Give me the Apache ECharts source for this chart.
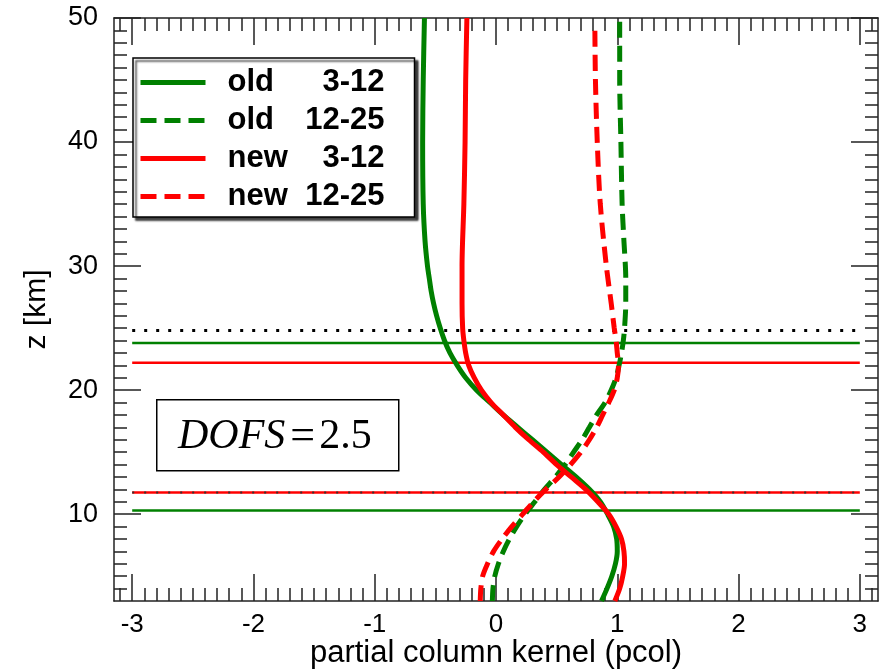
<!DOCTYPE html>
<html><head><meta charset="utf-8">
<script src="https://cdn.jsdelivr.net/npm/echarts@6/dist/echarts.min.js"></script>
<style>html,body{margin:0;padding:0;background:#fff}#c{width:884px;height:671px}</style>
</head><body><div id="c"></div>
<script>
// ---- data ----
const xTicks = [-3, -2, -1, 0, 1, 2, 3];
const yTicks = [10, 20, 30, 40, 50];
const xRange = [-3.15, 3.15];
const yRange = [3, 50];
const seriesNames = ['old 3-12', 'old 12-25', 'new 3-12', 'new 12-25'];
// altitude levels (km) and kernel values
const zOld312 = [3, 4, 5, 6, 7, 8, 9, 10, 11, 12, 13, 14, 15, 16, 17, 18, 19, 20, 21, 22, 23, 24, 25, 26, 27, 28, 29, 30, 32, 35, 40, 45, 50];
const kOld312 = [0.87, 0.915, 0.955, 0.985, 1.0, 0.995, 0.97, 0.92, 0.86, 0.77, 0.66, 0.54, 0.42, 0.30, 0.18, 0.06, -0.05, -0.16, -0.25, -0.32, -0.38, -0.425, -0.46, -0.49, -0.515, -0.535, -0.55, -0.565, -0.585, -0.60, -0.605, -0.60, -0.59];
const zNew312 = [3, 4, 5, 6, 7, 8, 9, 10, 11, 12, 13, 14, 15, 16, 17, 18, 19, 20, 21, 22, 23, 24, 25, 27, 30, 35, 40, 45, 50];
const kNew312 = [0.98, 1.02, 1.045, 1.06, 1.055, 1.035, 0.99, 0.93, 0.84, 0.74, 0.62, 0.50, 0.39, 0.27, 0.16, 0.06, -0.04, -0.12, -0.18, -0.225, -0.25, -0.265, -0.275, -0.28, -0.28, -0.265, -0.255, -0.25, -0.24];
const zOld1225 = [3, 4, 5, 6, 7, 8, 9, 10, 11, 12, 13, 14, 15, 16, 17, 18, 19, 20, 21, 22, 23, 24, 25, 27, 29, 32, 35, 40, 45, 50];
const kOld1225 = [-0.03, -0.025, -0.01, 0.02, 0.06, 0.11, 0.17, 0.24, 0.32, 0.40, 0.49, 0.57, 0.64, 0.71, 0.77, 0.83, 0.90, 0.95, 0.99, 1.015, 1.035, 1.05, 1.06, 1.07, 1.07, 1.055, 1.04, 1.03, 1.02, 1.02];
const zNew1225 = [3, 4, 5, 6, 7, 8, 9, 10, 11, 12, 13, 14, 15, 16, 17, 18, 19, 20, 21, 22, 23, 24, 25, 27, 30, 35, 40, 45, 49.5];
const kNew1225 = [-0.13, -0.125, -0.11, -0.07, -0.02, 0.05, 0.13, 0.22, 0.31, 0.41, 0.52, 0.615, 0.70, 0.77, 0.83, 0.88, 0.93, 0.975, 1.0, 1.01, 1.0, 0.99, 0.975, 0.95, 0.91, 0.86, 0.835, 0.82, 0.815];
// horizontal reference levels (km)
const levelTop = 24.8;
const levelOldTop = 23.8;
const levelNewTop = 22.2;
const levelNewBottom = 11.75;
const levelOldBottom = 10.3;
const levelSpan = [-3, 3];
const dofsText = ['DOFS', '=', '2.5'];

// ---- helpers ----
const FONT = "'Liberation Sans', Arial, Helvetica, sans-serif";
const SERIF = "'Liberation Serif', 'Times New Roman', serif";
const xMinor = []; for (let i = -31; i <= 31; i++) { if (i % 10 !== 0) xMinor.push(i / 10); }
const yMinor = []; for (let v = 4; v <= 49; v++) { if (v % 10 !== 0) yMinor.push(v); }
const GREEN = '#008000', RED = '#ff0000';
const tickStyle = { color: '#222', width: 1.5 };
const pairs = (k, z) => k.map((v, i) => [v, z[i]]);

function axis(kind, pos, ticks, len, showLine, extra) {
  const r = kind === 'x' ? xRange : yRange;
  return Object.assign({
    type: 'value', position: pos, min: r[0], max: r[1], gridIndex: 0,
    splitLine: { show: false },
    axisLine: { show: showLine, onZero: false, lineStyle: { color: '#222', width: 1.5 } },
    axisTick: { show: true, inside: true, length: len, customValues: ticks, lineStyle: tickStyle },
    axisLabel: { show: false }
  }, extra || {});
}

const xAxes = [
  axis('x', 'bottom', xTicks, 27, true, {
    axisLabel: { show: true, customValues: xTicks, margin: 11, fontSize: 26, color: '#000', fontFamily: FONT },
    name: 'partial column kernel (pcol)', nameLocation: 'middle', nameGap: 37, nameMoveOverlap: false,
    nameTextStyle: { fontSize: 31, color: '#000', fontFamily: FONT }
  }),
  axis('x', 'bottom', xMinor, 13, false),
  axis('x', 'top', xTicks, 27, true),
  axis('x', 'top', xMinor, 13, false)
];
const yAxes = [
  axis('y', 'left', yTicks, 27, true, {
    axisLabel: { show: true, customValues: yTicks, margin: 16, fontSize: 27, color: '#000', fontFamily: FONT },
    name: 'z [km]', nameLocation: 'middle', nameRotate: 90, nameGap: 62, nameMoveOverlap: false,
    nameTextStyle: { fontSize: 30, color: '#000', fontFamily: FONT }
  }),
  axis('y', 'left', yMinor, 13, false),
  axis('y', 'right', yTicks, 27, true),
  axis('y', 'right', yMinor, 13, false)
];

function curve(name, data, color, dashed) {
  return {
    name, type: 'line', data, smooth: 0.3, symbol: 'none', z: 5,
    lineStyle: { color, width: 5, type: dashed ? [16, 8] : 'solid', cap: 'butt' },
    itemStyle: { color }
  };
}
function level(z, color, width, type) {
  return {
    type: 'line', data: levelSpan.map(x => [x, z]), symbol: 'none', silent: true, z: 2,
    lineStyle: { color, width, type: type || 'solid', cap: 'butt' }
  };
}

const option = {
  animation: false,
  backgroundColor: '#fff',
  grid: { left: 114, right: 6, top: 18, bottom: 70, containLabel: false, outerBoundsMode: 'none' },
  xAxis: xAxes,
  yAxis: yAxes,
  legend: {
    data: seriesNames, orient: 'vertical', left: 133, top: 58,
    padding: [9, 30, 5, 5], itemWidth: 65, itemHeight: 14, itemGap: 7,
    backgroundColor: '#fff', borderColor: '#000', borderWidth: 1.5,
    shadowColor: 'rgba(0,0,0,0.75)', shadowBlur: 2, shadowOffsetX: 3, shadowOffsetY: 3,
    lineStyle: { width: 5 },
    itemStyle: { color: 'rgba(0,0,0,0)', borderColor: 'rgba(0,0,0,0)', borderWidth: 0, opacity: 0 },
    formatter: n => { const p = n.split(' '); return '{s| }{a|' + p[0] + '}{b|' + p[1] + '}'; },
    textStyle: {
      fontSize: 31, fontWeight: 'bold', color: '#000', fontFamily: FONT, lineHeight: 30,
      rich: {
        s: { width: 17, fontSize: 31 },
        a: { width: 75, fontSize: 31, fontWeight: 'bold', fontFamily: FONT, color: '#000' },
        b: { width: 82, align: 'right', fontSize: 31, fontWeight: 'bold', fontFamily: FONT, color: '#000' }
      }
    }
  },
  graphic: [
    { type: 'rect', left: 156, top: 399, z: 100,
      shape: { width: 242, height: 71 }, style: { fill: '#fff', stroke: '#000', lineWidth: 1.5 } },
    { type: 'text', x: 178, y: 437, z: 101,
      style: {
        text: '{i|' + dofsText[0] + '}{e|' + dofsText[1] + '}{n|' + dofsText[2] + '}',
        verticalAlign: 'middle', align: 'left',
        rich: {
          i: { fontFamily: SERIF, fontStyle: 'italic', fontSize: 42, fill: '#000' },
          e: { fontFamily: SERIF, fontSize: 44, padding: [0, 4, 0, 5], fill: '#000' },
          n: { fontFamily: SERIF, fontSize: 42, fill: '#000' }
        }
      } }
  ],
  series: [
    level(levelTop, '#000', 3, [3, 9]),
    level(levelOldTop, GREEN, 2.5),
    level(levelNewTop, RED, 2.5),
    level(levelNewBottom, RED, 2.5),
    level(levelNewBottom, '#333', 2, [2, 10]),
    level(levelOldBottom, GREEN, 2.5),
    curve(seriesNames[0], pairs(kOld312, zOld312), GREEN, false),
    curve(seriesNames[1], pairs(kOld1225, zOld1225), GREEN, true),
    curve(seriesNames[2], pairs(kNew312, zNew312), RED, false),
    curve(seriesNames[3], pairs(kNew1225, zNew1225), RED, true)
  ]
};
const chart = echarts.init(document.getElementById('c'), null, { renderer: 'canvas' });
chart.setOption(option);
</script></body></html>
